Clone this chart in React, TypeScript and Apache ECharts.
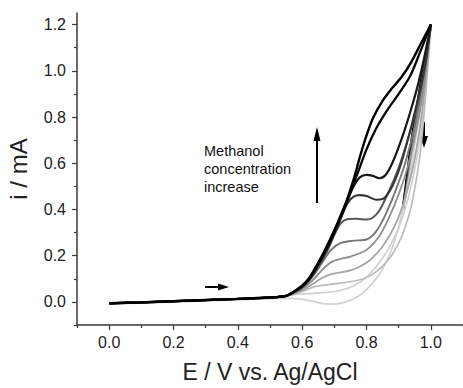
import React, { useEffect, useRef } from "react";
import * as echarts from "echarts";

// Tick values
const xMajorTicks = [0, 0.2, 0.4, 0.6, 0.8, 1.0];
const xMinorTicks = [-0.1, 0.1, 0.3, 0.5, 0.7, 0.9, 1.1];
const yMajorTicks = [0, 0.2, 0.4, 0.6, 0.8, 1.0, 1.2];
const yMinorTicks = [-0.1, 0.1, 0.3, 0.5, 0.7, 0.9, 1.1];

// Shared low-potential baseline (forward and reverse)
const baseForward = [[0, -0.006], [0.1, -0.002], [0.2, 0.003], [0.3, 0.008], [0.4, 0.013], [0.5, 0.019], [0.55, 0.026]];
const baseReverse = [[0.5, 0.014], [0.4, 0.009], [0.3, 0.004], [0.2, -0.001], [0.1, -0.005], [0, -0.009]];

// Forward scans, lightest (lowest methanol) to darkest (highest)
const hForward = [[0.58, 0.032], [0.62, 0.036], [0.66, 0.04], [0.7, 0.045], [0.74, 0.058], [0.78, 0.085], [0.81, 0.12], [0.84, 0.17], [0.87, 0.235], [0.9, 0.32], [0.93, 0.45], [0.96, 0.65], [0.98, 0.87], [1.0, 1.2]];
const gForward = [[0.575, 0.034], [0.6, 0.045], [0.64, 0.066], [0.7, 0.078], [0.75, 0.087], [0.79, 0.1], [0.82, 0.12], [0.85, 0.155], [0.88, 0.205], [0.91, 0.285], [0.94, 0.42], [0.97, 0.68], [1.0, 1.2]];
const fForward = [[0.575, 0.036], [0.6, 0.05], [0.63, 0.075], [0.66, 0.102], [0.69, 0.12], [0.72, 0.128], [0.75, 0.136], [0.78, 0.153], [0.81, 0.18], [0.85, 0.24], [0.89, 0.335], [0.92, 0.45], [0.95, 0.62], [0.975, 0.85], [1.0, 1.2]];
const eForward = [[0.575, 0.038], [0.6, 0.056], [0.63, 0.09], [0.66, 0.135], [0.69, 0.172], [0.72, 0.186], [0.75, 0.196], [0.8, 0.225], [0.84, 0.285], [0.87, 0.365], [0.9, 0.465], [0.93, 0.595], [0.96, 0.78], [0.98, 0.95], [1.0, 1.2]];
const dForward = [[0.575, 0.04], [0.6, 0.06], [0.63, 0.105], [0.66, 0.165], [0.69, 0.225], [0.72, 0.255], [0.76, 0.265], [0.8, 0.27], [0.83, 0.305], [0.86, 0.38], [0.89, 0.48], [0.92, 0.6], [0.95, 0.76], [0.975, 0.95], [1.0, 1.2]];
const cForward = [[0.575, 0.042], [0.6, 0.063], [0.62, 0.09], [0.64, 0.128], [0.66, 0.173], [0.68, 0.225], [0.7, 0.29], [0.72, 0.34], [0.74, 0.358], [0.77, 0.36], [0.8, 0.356], [0.82, 0.365], [0.84, 0.395], [0.87, 0.48], [0.9, 0.58], [0.93, 0.71], [0.96, 0.86], [0.98, 1.0], [1.0, 1.2]];
const bForward = [[0.575, 0.043], [0.6, 0.065], [0.62, 0.094], [0.64, 0.135], [0.66, 0.183], [0.68, 0.235], [0.7, 0.295], [0.72, 0.36], [0.74, 0.425], [0.76, 0.455], [0.78, 0.462], [0.8, 0.458], [0.83, 0.442], [0.85, 0.445], [0.87, 0.475], [0.89, 0.53], [0.91, 0.61], [0.93, 0.71], [0.95, 0.82], [0.97, 0.94], [0.985, 1.05], [1.0, 1.2]];
const aForward = [[0.575, 0.044], [0.6, 0.067], [0.62, 0.096], [0.64, 0.138], [0.66, 0.187], [0.68, 0.24], [0.7, 0.3], [0.72, 0.365], [0.74, 0.435], [0.76, 0.5], [0.78, 0.54], [0.8, 0.55], [0.82, 0.545], [0.84, 0.535], [0.86, 0.55], [0.88, 0.6], [0.9, 0.67], [0.92, 0.75], [0.94, 0.84], [0.96, 0.94], [0.98, 1.06], [1.0, 1.2]];
const s2Forward = [[0.575, 0.045], [0.6, 0.068], [0.62, 0.098], [0.64, 0.14], [0.66, 0.19], [0.68, 0.245], [0.7, 0.305], [0.72, 0.37], [0.74, 0.44], [0.76, 0.51], [0.78, 0.585], [0.8, 0.66], [0.83, 0.75], [0.86, 0.82], [0.9, 0.9], [0.935, 0.975], [0.965, 1.075], [1.0, 1.2]];
const s1Forward = [[0.575, 0.045], [0.6, 0.07], [0.62, 0.1], [0.64, 0.145], [0.66, 0.195], [0.68, 0.25], [0.7, 0.31], [0.72, 0.375], [0.74, 0.445], [0.76, 0.53], [0.78, 0.63], [0.8, 0.72], [0.82, 0.795], [0.85, 0.87], [0.88, 0.925], [0.91, 0.975], [0.94, 1.04], [0.97, 1.12], [1.0, 1.2]];

// Reverse scans from the 1.0 V vertex. The lightest runs down to the baseline;
// the darker ones lie just inside it and join it near 0.91 V.
const hReverse = [[1.0, 1.2], [0.99, 1.08], [0.978, 0.95], [0.965, 0.82], [0.952, 0.7], [0.94, 0.59], [0.927, 0.49], [0.913, 0.4], [0.895, 0.3], [0.872, 0.205], [0.845, 0.13], [0.815, 0.075], [0.785, 0.035], [0.755, 0.01], [0.725, -0.004], [0.695, -0.01], [0.665, -0.008], [0.635, 0.002], [0.6, 0.011], [0.55, 0.015]];
const gReverse = [[1.0, 1.2], [0.99, 1.08], [0.977, 0.95], [0.964, 0.82], [0.951, 0.7], [0.939, 0.59], [0.927, 0.49], [0.913, 0.4]];
const fReverse = [[1.0, 1.2], [0.99, 1.08], [0.976, 0.95], [0.963, 0.82], [0.95, 0.7], [0.938, 0.59], [0.926, 0.49], [0.913, 0.4]];
const eReverse = [[1.0, 1.2], [0.989, 1.08], [0.975, 0.95], [0.962, 0.82], [0.948, 0.7], [0.937, 0.59], [0.925, 0.49], [0.913, 0.4]];
const dReverse = [[1.0, 1.2], [0.989, 1.08], [0.974, 0.95], [0.96, 0.82], [0.947, 0.7], [0.936, 0.59], [0.925, 0.49], [0.913, 0.4]];
const cReverse = [[1.0, 1.2], [0.989, 1.08], [0.973, 0.95], [0.959, 0.82], [0.946, 0.7], [0.935, 0.59], [0.924, 0.49], [0.913, 0.4]];
const bReverse = [[1.0, 1.2], [0.988, 1.08], [0.972, 0.95], [0.958, 0.82], [0.944, 0.7], [0.933, 0.59], [0.923, 0.49], [0.913, 0.4]];
const aReverse = [[1.0, 1.2], [0.988, 1.08], [0.971, 0.95], [0.957, 0.82], [0.943, 0.7], [0.932, 0.59], [0.923, 0.49], [0.913, 0.4]];
const s2Reverse = [[1.0, 1.2], [0.988, 1.08], [0.97, 0.95], [0.955, 0.82], [0.941, 0.7], [0.931, 0.59], [0.922, 0.49], [0.913, 0.4]];
const s1Reverse = [[1.0, 1.2], [0.987, 1.08], [0.969, 0.95], [0.954, 0.82], [0.94, 0.7], [0.93, 0.59], [0.921, 0.49], [0.913, 0.4]];

const curves = [
  { fwd: hForward, rev: [...hReverse, ...baseReverse], color: "#d0d0d0", width: 1.7 },
  { fwd: gForward, rev: gReverse, color: "#bcbcbc", width: 1.7 },
  { fwd: fForward, rev: fReverse, color: "#a6a6a6", width: 1.8 },
  { fwd: eForward, rev: eReverse, color: "#8f8f8f", width: 1.8 },
  { fwd: dForward, rev: dReverse, color: "#777777", width: 1.9 },
  { fwd: cForward, rev: cReverse, color: "#585858", width: 2 },
  { fwd: bForward, rev: bReverse, color: "#363636", width: 2.1 },
  { fwd: aForward, rev: aReverse, color: "#181818", width: 2.2 },
  { fwd: s2Forward, rev: s2Reverse, color: "#060606", width: 2.3 },
  { fwd: s1Forward, rev: s1Reverse, color: "#000000", width: 2.4 },
];

const FONT = "Liberation Sans, Arial, sans-serif";
const AXIS_COLOR = "#3a3a3a";

export default function App() {
  const ref = useRef<HTMLDivElement>(null);
  useEffect(() => {
    if (!ref.current) return;
    const chart = echarts.init(ref.current, undefined, { renderer: "svg" });
    const lineBase = { type: "line", xAxisIndex: 0, yAxisIndex: 0, showSymbol: false, symbol: "none", smooth: 0.3 };
    // reverse scans: darkest first so the lighter ones lie on top where they meet
    const reverseSeries = curves
      .map((c, idx) => ({
        ...lineBase,
        name: "rev" + idx,
        data: c.rev,
        lineStyle: { color: c.color, width: c.width },
        z: 2,
      }))
      .reverse();
    const forwardSeries = curves.map((c, idx) => ({
      ...lineBase,
      name: "fwd" + idx,
      data: [...baseForward, ...c.fwd],
      lineStyle: { color: c.color, width: c.width },
      z: 3,
    }));
    const fmt = (v: number) => v.toFixed(1);
    chart.setOption({
      animation: false,
      backgroundColor: "#ffffff",
      grid: { left: 77, right: 0, top: 13, bottom: 63, containLabel: false, outerBoundsMode: "none" },
      xAxis: [
        {
          type: "value",
          min: -0.1,
          max: 1.1,
          position: "bottom",
          axisLine: { show: true, onZero: false, lineStyle: { color: AXIS_COLOR, width: 1.5 } },
          axisTick: { show: true, customValues: xMajorTicks, length: 5, lineStyle: { color: AXIS_COLOR, width: 1.2 } },
          axisLabel: { customValues: xMajorTicks, formatter: fmt, fontSize: 16, color: "#222", fontFamily: FONT, margin: 9 },
          splitLine: { show: false },
          name: "E / V vs. Ag/AgCl",
          nameLocation: "middle",
          nameGap: 35,
          nameTextStyle: { fontSize: 23, color: "#222", fontFamily: FONT },
        },
        {
          type: "value",
          min: -0.1,
          max: 1.1,
          position: "bottom",
          axisLine: { show: false, onZero: false },
          axisTick: { show: true, customValues: xMinorTicks, length: 3, lineStyle: { color: AXIS_COLOR, width: 1.2 } },
          axisLabel: { show: false },
          splitLine: { show: false },
        },
      ],
      yAxis: [
        {
          type: "value",
          min: -0.1,
          max: 1.25,
          position: "left",
          axisLine: { show: true, onZero: false, lineStyle: { color: AXIS_COLOR, width: 1.5 } },
          axisTick: { show: true, customValues: yMajorTicks, length: 5, lineStyle: { color: AXIS_COLOR, width: 1.2 } },
          axisLabel: { customValues: yMajorTicks, formatter: fmt, fontSize: 16, color: "#222", fontFamily: FONT, margin: 11 },
          splitLine: { show: false },
          name: "i / mA",
          nameLocation: "middle",
          nameGap: 47,
          nameRotate: 90,
          nameTextStyle: { fontSize: 24, color: "#222", fontFamily: FONT },
        },
        {
          type: "value",
          min: -0.1,
          max: 1.25,
          position: "left",
          axisLine: { show: false, onZero: false },
          axisTick: { show: true, customValues: yMinorTicks, length: 3, lineStyle: { color: AXIS_COLOR, width: 1.2 } },
          axisLabel: { show: false },
          splitLine: { show: false },
        },
      ],
      graphic: [
        {
          type: "text",
          left: 204,
          top: 142,
          style: {
            text: "Methanol\nconcentration\nincrease",
            fontSize: 14.5,
            lineHeight: 18,
            fill: "#111",
            fontFamily: FONT,
          },
        },
        { type: "line", shape: { x1: 317, y1: 203, x2: 317, y2: 138 }, style: { stroke: "#000", lineWidth: 2 } },
        { type: "polygon", shape: { points: [[317, 127], [313.5, 141], [320.5, 141]] }, style: { fill: "#000" } },
        { type: "line", shape: { x1: 205, y1: 287, x2: 220, y2: 287 }, style: { stroke: "#000", lineWidth: 2 } },
        { type: "polygon", shape: { points: [[229, 287], [218, 283.5], [218, 290.5]] }, style: { fill: "#000" } },
        { type: "line", shape: { x1: 424, y1: 122, x2: 424, y2: 138 }, style: { stroke: "#000", lineWidth: 2 } },
        { type: "polygon", shape: { points: [[424, 148], [420, 136], [428, 136]] }, style: { fill: "#000" } },
      ],
      series: [...reverseSeries, ...forwardSeries],
    });
    return () => chart.dispose();
  }, []);
  return (
    <div
      ref={ref}
      style={{ position: "fixed", left: 0, top: 0, width: 463, height: 388, background: "#fff" }}
    />
  );
}
